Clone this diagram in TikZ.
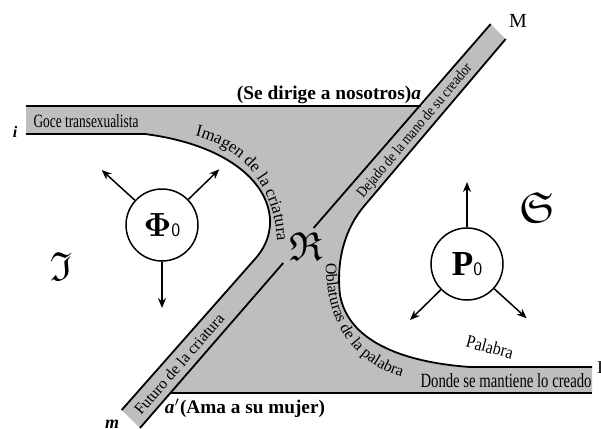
\documentclass[tikz,border=0pt]{standalone}
\usepackage[no-math]{fontspec}
\setmainfont{Liberation Serif}
\usepackage{amssymb}
\usepackage{graphicx}
\usetikzlibrary{arrows.meta,decorations.text}
\definecolor{bandgray}{RGB}{190,190,190}
\begin{document}
\begin{tikzpicture}[x=1pt,y=-1pt,
  edge/.style={line width=1.8pt},
  arr/.style={line width=1.5pt,-{Stealth[length=10pt,width=8pt]}},
  ring/.style={circle,draw,line width=1.5pt,minimum size=72pt,inner sep=0pt},
  lbl/.style={inner sep=0pt}]
\useasboundingbox (0,0) rectangle (601,428);
% key points
\coordinate (Atop) at (490.7,24);
\coordinate (Abot) at (140,428);
\coordinate (Aa) at (421.3,106);
\coordinate (Aap) at (170.5,393);
\coordinate (Rup) at (313.6,228);
\coordinate (Rlo) at (283.2,263);
\coordinate (Btop) at (505.7,39);
\coordinate (Bk) at (365,205);
\coordinate (Cbot) at (121.7,410);
\coordinate (Ck) at (255,259);
\coordinate (TL) at (26,106);
\coordinate (BL) at (26,134);
\coordinate (LC) at (145,134);
\coordinate (RC) at (470,367);
\coordinate (TR) at (592,367);
\coordinate (BR) at (592,393);
% grey region
\fill[bandgray] (TL) -- (Aa) -- (Atop) -- (Btop) -- (Bk)
  .. controls (345,228) and (336,260) .. (340,295)
  .. controls (348,340) and (400,362) .. (RC) -- (TR) -- (BR) -- (Aap) -- (Abot)
  -- (Cbot) -- (Ck) .. controls (264,249) and (269,238) .. (270,225)
  .. controls (272,185) and (230,145) .. (LC) -- (BL) -- cycle;
% outlines
\draw[edge] (TL) -- (Aa);
\draw[edge] (Atop) -- (Rup);
\draw[edge] (Rlo) -- (Abot);
\draw[edge] (Btop) -- (Bk) .. controls (345,228) and (336,260) .. (340,295)
  .. controls (348,340) and (400,362) .. (RC) -- (TR);
\draw[edge] (Aap) -- (BR);
\draw[edge] (Cbot) -- (Ck) .. controls (264,249) and (269,238) .. (270,225)
  .. controls (272,185) and (230,145) .. (LC) -- (BL);
% band texts
\node[lbl,font=\bfseries] (dirige) at (329,95)
  {\resizebox{184pt}{!}{(Se dirige a nosotros)\textit{a}}};
\node[lbl,font=\bfseries] (ama) at (245,408)
  {\resizebox{160pt}{!}{\textit{a}$'$(Ama a su mujer)}};
\node[lbl] (goce) at (86,121) {\resizebox{105pt}{13pt}{Goce transexualista}};
\node[lbl] (donde) at (506,381) {\resizebox{171pt}{14pt}{Donde se mantiene lo creado}};
\node[lbl,rotate=50] (dejado) at (415,131) {\resizebox{170pt}{10.5pt}{Dejado de la mano de su creador}};
\node[lbl,rotate=49] (futuro) at (179,364) {\resizebox{128pt}{11pt}{Futuro de la criatura}};
\node[lbl,rotate=-15] (palabra) at (490,347) {\resizebox{48pt}{12.5pt}{Palabra}};
\path[decorate,decoration={text along path,
  text={|\fontsize{17}{17}\selectfont|Imagen de la criatura}}]
  (195,136) .. controls (238,146) and (280,185) .. (277,255);
\path[decorate,decoration={text along path,
  text={|\fontsize{16}{16}\selectfont|Oblaturas de la palabra}}]
  (326,263) .. controls (325,320) and (352,374) .. (430,383);
% circles
\node[ring] (phi) at (162,225) {\resizebox{!}{23pt}{$\mathbf{\Phi}$}{\sffamily\fontsize{19}{19}\selectfont 0}};
\node[ring] (P) at (467,264) {\resizebox{!}{23pt}{\bfseries P}{\sffamily\fontsize{19}{19}\selectfont 0}};
\coordinate (phiUL) at (101.7,170);
\coordinate (phiUR) at (219.3,169.3);
\coordinate (phiD) at (162,308);
\coordinate (pU) at (467,182);
\coordinate (pDL) at (410,320);
\coordinate (pDR) at (526.7,318.3);
\draw[arr] (phi) -- (phiUL);
\draw[arr] (phi) -- (phiUR);
\draw[arr] (phi) -- (phiD);
\draw[arr] (P) -- (pU);
\draw[arr] (P) -- (pDL);
\draw[arr] (P) -- (pDR);
% letters
\node[lbl,font=\fontsize{20}{20}\selectfont] (M) at (518,21) {M};
\node[lbl,font=\bfseries\itshape\fontsize{18}{18}\selectfont] (m) at (112,424) {m};
\node[lbl,font=\bfseries\itshape\fontsize{16}{16}\selectfont] (i) at (15,132) {i};
\node[lbl,anchor=west,font=\fontsize{18}{18}\selectfont] (I) at (597,368) {I};
\node[lbl] (frakI) at (61,266) {\resizebox{!}{28pt}{$\mathfrak{I}$}};
\node[lbl] (frakS) at (537,207) {\resizebox{!}{30pt}{$\mathfrak{S}$}};
\node[lbl] (frakR) at (306,246) {\resizebox{!}{28pt}{$\mathfrak{R}$}};
\end{tikzpicture}
\end{document}
